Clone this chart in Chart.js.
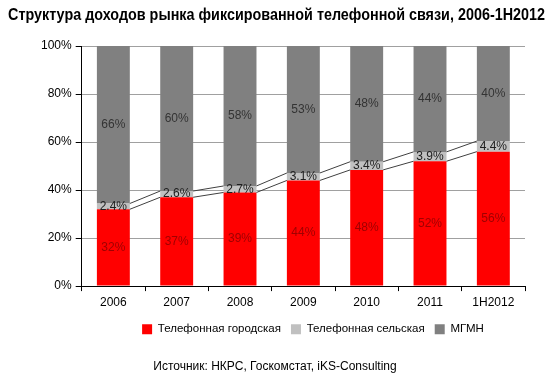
<!DOCTYPE html>
<html lang="ru">
<head>
<meta charset="UTF-8">
<title>Структура доходов рынка фиксированной телефонной связи</title>
<script src="https://cdn.jsdelivr.net/npm/chart.js@4/dist/chart.umd.min.js"></script>
<style>
  body { margin: 0; background: #fff; }
  #wrap { width: 550px; height: 391px; }
</style>
</head>
<body>
<div id="wrap"><canvas id="myChart" width="550" height="391"></canvas></div>
<script>
// data
const years = ['2006', '2007', '2008', '2009', '2010', '2011', '1H2012'];
const cityPhone = [32, 37, 39, 44, 48.4, 52, 56];
const ruralPhone = [2.4, 2.6, 2.7, 3.1, 3.4, 3.9, 4.4];
const longDistance = [65.6, 60.4, 58.3, 52.9, 48.2, 44.1, 39.6];
const yTicks = [0, 20, 40, 60, 80, 100];

const titleText = 'Структура доходов рынка фиксированной телефонной связи, 2006-1H2012';
const sourceText = 'Источник: НКРС, Госкомстат, iKS-Consulting';

const FONT = 'Arial, "Liberation Sans", sans-serif';

// Excel style series lines, value labels, title and source line
const barExtras = {
    id: 'barExtras',
    afterLayout(chart) {
        // the legend sits a bit right of centre in the original
        chart.legend.left += 32;
        chart.legend.right += 32;
    },
    afterDatasetsDraw(chart) {
        const ctx = chart.ctx;
        const y = chart.scales.y;
        const m0 = chart.getDatasetMeta(0);
        ctx.save();
        ctx.strokeStyle = '#404040';
        ctx.lineWidth = 1;
        for (let i = 0; i < years.length - 1; i++) {
            const a = m0.data[i], b = m0.data[i + 1];
            const x1 = a.x + a.width / 2, x2 = b.x - b.width / 2;
            const lv1 = [cityPhone[i], cityPhone[i] + ruralPhone[i]];
            const lv2 = [cityPhone[i + 1], cityPhone[i + 1] + ruralPhone[i + 1]];
            for (let k = 0; k < 2; k++) {
                ctx.beginPath();
                ctx.moveTo(x1, y.getPixelForValue(lv1[k]));
                ctx.lineTo(x2, y.getPixelForValue(lv2[k]));
                ctx.stroke();
            }
        }
        ctx.font = '12px ' + FONT;
        ctx.textAlign = 'center';
        ctx.textBaseline = 'middle';
        const colors = ['#a00000', '#202020', '#333333'];
        chart.data.datasets.forEach((ds, d) => {
            const meta = chart.getDatasetMeta(d);
            meta.data.forEach((bar, i) => {
                const v = ds.data[i];
                const txt = d === 1 ? v.toFixed(1) + '%' : Math.round(v) + '%';
                const cy = (bar.y + bar.base) / 2;
                ctx.fillStyle = colors[d];
                ctx.fillText(txt, bar.x, cy);
            });
        });
        ctx.restore();
    },
    afterDraw(chart) {
        const ctx = chart.ctx;
        ctx.save();
        ctx.fillStyle = '#000';
        ctx.textAlign = 'center';
        ctx.textBaseline = 'middle';
        // title is a condensed bold face in the original
        ctx.font = 'bold 17px ' + FONT;
        ctx.fillText(titleText, 276.5, 15, 537);
        ctx.font = '12px ' + FONT;
        ctx.fillText(sourceText, 275, 367);
        ctx.restore();
    }
};

new Chart(document.getElementById('myChart'), {
    type: 'bar',
    data: {
        labels: years,
        datasets: [
            { label: 'Телефонная городская', data: cityPhone, backgroundColor: '#ff0000' },
            { label: 'Телефонная сельская', data: ruralPhone, backgroundColor: '#c0c0c0' },
            { label: 'МГМН', data: longDistance, backgroundColor: '#808080' }
        ]
    },
    options: {
        responsive: false,
        animation: false,
        layout: { padding: { left: 37, right: 25, top: 46, bottom: 46 } },
        datasets: { bar: { categoryPercentage: 0.52, barPercentage: 1 } },
        plugins: {
            title: { display: false },
            legend: {
                position: 'bottom',
                labels: {
                    color: '#000',
                    font: { family: FONT, size: 11.5 },
                    boxWidth: 10,
                    boxHeight: 10,
                    padding: 10
                }
            },
            tooltip: { enabled: false }
        },
        scales: {
            x: {
                stacked: true,
                grid: { offset: true, drawOnChartArea: false, tickLength: 5, color: '#000' },
                border: { color: '#000' },
                ticks: { color: '#000', font: { family: FONT, size: 12 }, padding: 4 }
            },
            y: {
                stacked: true,
                min: 0,
                max: 100,
                afterBuildTicks: s => { s.ticks = yTicks.map(v => ({ value: v })); },
                grid: { color: '#a0a0a0', tickLength: 6, tickColor: '#000' },
                border: { color: '#000' },
                ticks: { color: '#000', font: { family: FONT, size: 12 }, padding: 4,
                         callback: v => v + '%' }
            }
        }
    },
    plugins: [barExtras]
});
</script>
</body>
</html>
